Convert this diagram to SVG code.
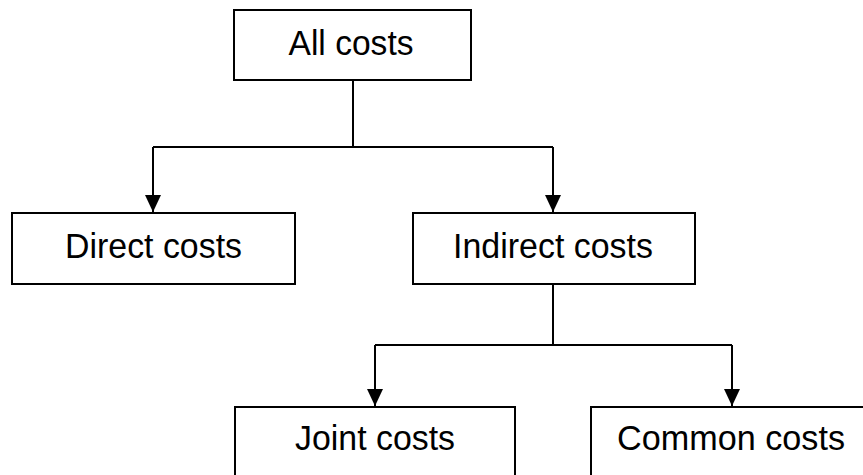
<svg xmlns="http://www.w3.org/2000/svg" width="863" height="475" viewBox="0 0 863 475">
<defs>
<style>
.box{fill:#fff;stroke:#000;stroke-width:2}
.lbl{font-family:"Liberation Sans",Arial,sans-serif;font-size:35px;fill:#000;text-anchor:middle}
.con{fill:none;stroke:#000;stroke-width:2}
</style>
<marker id="arr" markerUnits="userSpaceOnUse" markerWidth="18" markerHeight="18" viewBox="0 0 18 18" refX="17" refY="9" orient="auto">
<path d="M0,1 L17,9 L0,17 Z" fill="#000"/>
</marker>
</defs>
<rect width="863" height="475" fill="#fff"/>
<g id="connectors">
<path class="con" d="M353,81 V147"/>
<path class="con" d="M153,147 H553"/>
<path class="con" d="M153,147 V212" marker-end="url(#arr)"/>
<path class="con" d="M553,147 V212" marker-end="url(#arr)"/>
<path class="con" d="M553,285 V345"/>
<path class="con" d="M375,345 H732"/>
<path class="con" d="M375,345 V406" marker-end="url(#arr)"/>
<path class="con" d="M732,345 V406" marker-end="url(#arr)"/>
</g>
<g id="all-costs">
<rect class="box" x="234" y="10" width="237" height="70"/>
<text class="lbl" x="351" y="55" textLength="125" lengthAdjust="spacingAndGlyphs">All costs</text>
</g>
<g id="direct-costs">
<rect class="box" x="12" y="213" width="283" height="71"/>
<text class="lbl" x="153.5" y="257.5" textLength="177" lengthAdjust="spacingAndGlyphs">Direct costs</text>
</g>
<g id="indirect-costs">
<rect class="box" x="413" y="213" width="282" height="71"/>
<text class="lbl" x="553" y="257.5" textLength="200" lengthAdjust="spacingAndGlyphs">Indirect costs</text>
</g>
<g id="joint-costs">
<rect class="box" x="235" y="407" width="280" height="80"/>
<text class="lbl" x="375" y="449.5" textLength="160" lengthAdjust="spacingAndGlyphs">Joint costs</text>
</g>
<g id="common-costs">
<rect class="box" x="591" y="407" width="282" height="80"/>
<text class="lbl" x="731" y="450" textLength="228" lengthAdjust="spacingAndGlyphs">Common costs</text>
</g>
</svg>
